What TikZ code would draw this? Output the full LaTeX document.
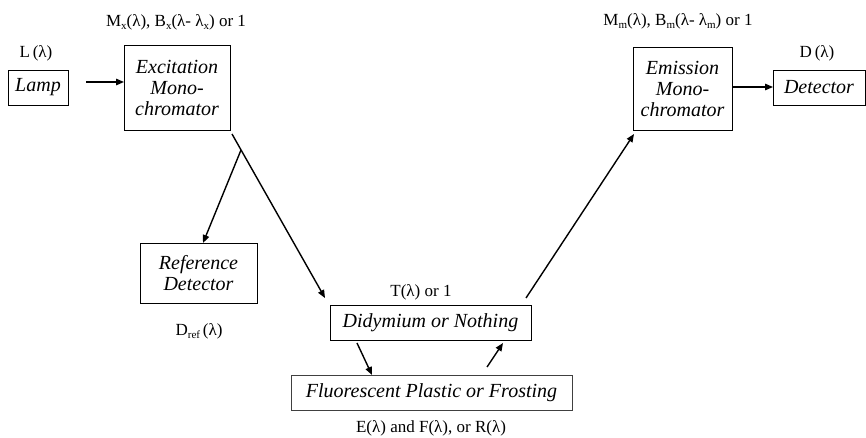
\documentclass[tikz,border=0pt]{standalone}
\usepackage{fontspec}
\setmainfont{Liberation Serif}[ItalicFont={Liberation Serif Italic},BoldFont={Liberation Serif Bold}]
\usetikzlibrary{arrows.meta}
\newcommand{\lowsub}[1]{\raisebox{-3.5pt}{\fontsize{11}{11}\selectfont #1}}
\begin{document}
\begin{tikzpicture}[x=1pt,y=-1pt,
  box/.style={draw=black,line width=0.9pt,inner sep=0pt,align=center,
    font=\fontsize{20}{21}\selectfont\itshape},
  lbl/.style={inner sep=0pt,font=\fontsize{17}{19}\selectfont},
  arr/.style={line width=1.4pt,-{Triangle[length=8pt,width=6.5pt]}}]
\useasboundingbox (0,0) rectangle (866,438);
% boxes
\node[box,minimum width=60pt,minimum height=35pt] (lamp) at (38,87.5) {Lamp};
\node[box,minimum width=106pt,minimum height=85pt] (exc) at (177,87.5) {Excitation\\Mono-\\chromator};
\node[box,minimum width=99pt,minimum height=83pt] (em) at (682.5,88.5) {Emission\\Mono-\\chromator};
\node[box,minimum width=92pt,minimum height=35pt] (det) at (819,87.5) {Detector};
\node[box,minimum width=117pt,minimum height=60pt] (ref) at (198.5,273) {Reference\\Detector};
\node[box,minimum width=201pt,minimum height=35pt] (did) at (430.5,322.5) {Didymium or Nothing};
\node[box,draw=black!75,minimum width=281pt,minimum height=35pt] (flu) at (431.5,392.5) {Fluorescent Plastic or Frosting};
% labels
\node[lbl] (lL) at (36,53) {L\,(λ)};
\node[lbl] (lMx) at (176,22) {M\lowsub{x}(λ), B\lowsub{x}(λ- λ\lowsub{x}) or 1};
\node[lbl] (lMm) at (678,21) {M\lowsub{m}(λ), B\lowsub{m}(λ- λ\lowsub{m}) or 1};
\node[lbl] (lD) at (817,53) {D\,(λ)};
\node[lbl] (lDref) at (199,331) {D\lowsub{ref}\,(λ)};
\node[lbl] (lT) at (421,292) {T(λ) or 1};
\node[lbl] (lE) at (431,428) {E(λ) and F(λ), or R(λ)};
% connector points
\coordinate (s1) at (86,82);
\coordinate (e1) at (124,82);
\coordinate (ds) at (232,134);
\coordinate (de) at (325,298);
\coordinate (rs) at (241,150);
\coordinate (re) at (203,243);
\coordinate (us) at (526,298);
\coordinate (ue) at (634,134);
\coordinate (ms) at (732,87);
\coordinate (me) at (773,87);
\coordinate (a1) at (357,343);
\coordinate (a2) at (372,375);
\coordinate (b1) at (487,367);
\coordinate (b2) at (503,343);
% connectors
\draw[arr] (s1) -- (e1);
\draw[arr] (ds) -- (de);
\draw[arr] (rs) -- (re);
\draw[arr] (us) -- (ue);
\draw[arr] (ms) -- (me);
\draw[arr] (a1) -- (a2);
\draw[arr] (b1) -- (b2);
\end{tikzpicture}
\end{document}
